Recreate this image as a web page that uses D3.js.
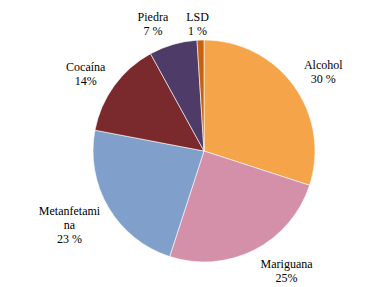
<!DOCTYPE html>
<html>
<meta charset="utf-8">
<head>
<style>
  body { margin: 0; background: #fff; }
  svg text { font-family: "Liberation Serif", "Times New Roman", serif; font-size: 12px; fill: #000; }
</style>
</head>
<body>
<script src="https://d3js.org/d3.v7.min.js"></script>
<script>

// data
var categories = ["Alcohol", "Mariguana", "Metanfetamina", "Cocaína", "Piedra", "LSD"];
var values = [30, 25, 23, 14, 7, 1];
var nameLines = [["Alcohol"], ["Mariguana"], ["Metanfetami", "na"], ["Cocaína"], ["Piedra"], ["LSD"]];
var pctLabels = ["30 %", "25%", "23 %", "14%", "7 %", "1 %"];

var colors = ["#F6A449", "#D48FA9", "#809FCB", "#7A2A2C", "#4F3B67", "#C4620F"];
// nudges for label blocks (Excel-style manual placement)
var labelShift = [[6, 3], [19, -5], [-14, 3], [-5, 5], [-12, 7], [-2, 13]];

var width = 366, height = 287,
    cx = 204, cy = 151, radius = 111, labelRadius = 140, lineH = 14;

var svg = d3.select("body").append("svg")
    .attr("width", width)
    .attr("height", height);

var g = svg.append("g")
    .attr("transform", "translate(" + cx + "," + cy + ")");

var pie = d3.pie().sort(null).value(function(d) { return d; });
var arcs = pie(values);

var arc = d3.arc().innerRadius(0).outerRadius(radius);
var labelArc = d3.arc().innerRadius(labelRadius).outerRadius(labelRadius);

g.selectAll("path.slice")
    .data(arcs)
    .enter().append("path")
    .attr("class", "slice")
    .attr("d", arc)
    .style("fill", function(d, i) { return colors[i]; })
    .style("stroke", "#fff")
    .style("stroke-width", 0.6);

var labels = g.selectAll("text.lbl")
    .data(arcs)
    .enter().append("text")
    .attr("class", "lbl")
    .attr("text-anchor", "middle")
    .attr("transform", function(d, i) {
      var c = labelArc.centroid(d);
      return "translate(" + (c[0] + labelShift[i][0]) + "," + (c[1] + labelShift[i][1]) + ")";
    });

labels.each(function(d, i) {
  var lines = nameLines[i].concat([pctLabels[i]]);
  var t = d3.select(this);
  var y0 = -(lines.length - 1) * lineH / 2 + 4;
  lines.forEach(function(s, k) {
    t.append("tspan").attr("x", 0).attr("y", y0 + k * lineH).text(s);
  });
});

</script>
</body>
</html>
